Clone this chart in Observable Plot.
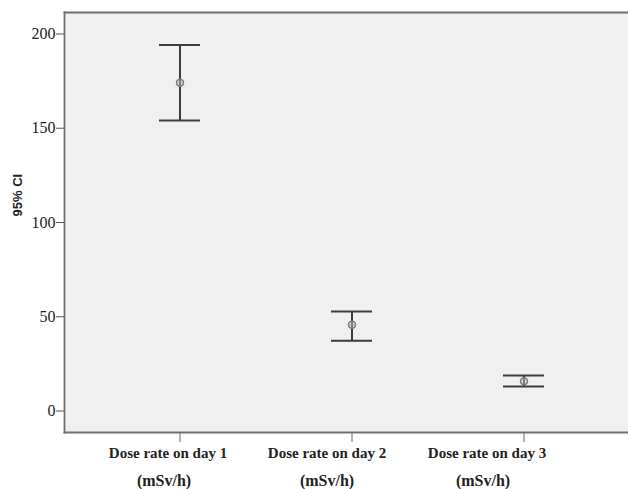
<!DOCTYPE html>
<html>
<head>
<meta charset="utf-8">
<script src="https://cdn.jsdelivr.net/npm/d3@7"></script>
<script src="https://cdn.jsdelivr.net/npm/@observablehq/plot@0.6"></script>
<style>
  html, body { margin: 0; padding: 0; background: #fff; overflow: hidden; }
  #wrap { position: relative; width: 628px; height: 489px; overflow: hidden; }
  .xl { position: absolute; transform: translateX(-50%); white-space: nowrap; color: #222;
        font-family: "Liberation Serif", "Times New Roman", serif; font-weight: bold; }
</style>
</head>
<body>
<div id="wrap"></div>
<script>
// Data
const categories = ["Dose rate on day 1", "Dose rate on day 2", "Dose rate on day 3"];
const unitLabel = "(mSv/h)";
const means = [174.1, 45.7, 15.8];
const lower = [154.1, 37.3, 13.0];
const upper = [194.1, 52.8, 18.8];
const yTicks = [0, 50, 100, 150, 200];
const yLabel = "95% CI";

const rows = categories.map((c, i) => ({cat: c, mean: means[i], lo: lower[i], hi: upper[i]}));

const frameLine = {stroke: "#707070", strokeWidth: 1.8};

const chart = Plot.plot({
  width: 628,
  height: 489,
  marginTop: 12,
  marginBottom: 57,
  marginLeft: 64,
  marginRight: 0,
  style: {background: "transparent"},
  x: {type: "band", domain: categories, range: [93, 609], paddingInner: 0.762, paddingOuter: 0.381, align: 0.5},
  y: {domain: [-11.4, 211.4]},
  marks: [
    Plot.frame({fill: "#f0f0f0", stroke: null}),
    Plot.frame({anchor: "left", ...frameLine}),
    Plot.frame({anchor: "top", ...frameLine}),
    Plot.frame({anchor: "bottom", ...frameLine}),
    Plot.axisY({ticks: yTicks, tickSize: 8, tickPadding: 1, label: null, fontSize: 16,
                fontFamily: "Liberation Serif, Times New Roman, serif", color: "#222", stroke: "#555"}),
    Plot.axisX({tickSize: 10, tickFormat: () => "", label: null, stroke: "#666"}),
    Plot.text([yLabel], {frameAnchor: "left", dx: -47, dy: -6, rotate: -90, fontWeight: "bold",
                fontSize: 13, fontFamily: "Liberation Sans, Arial, sans-serif", fill: "#222"}),
    Plot.ruleX(rows, {x: "cat", y1: "lo", y2: "hi", stroke: "#3c3c3c", strokeWidth: 2}),
    Plot.tickY(rows, {x: "cat", y: "lo", stroke: "#3c3c3c", strokeWidth: 2}),
    Plot.tickY(rows, {x: "cat", y: "hi", stroke: "#3c3c3c", strokeWidth: 2}),
    Plot.dot(rows, {x: "cat", y: "mean", r: 3.5, stroke: "#7a7a7a", strokeWidth: 1.5, fill: "#bdbdbd", fillOpacity: 0.5})
  ]
});

const wrap = document.getElementById("wrap");
wrap.appendChild(chart);
chart.style.position = "absolute";
chart.style.left = "0";
chart.style.top = "0";

// category labels below the axis (two lines)
const line1Centers = [168, 327, 487];
const line2Centers = [164, 327, 483];
categories.forEach((c, i) => {
  const a = document.createElement("div");
  a.className = "xl";
  a.textContent = c;
  a.style.left = line1Centers[i] + "px";
  a.style.top = "445px";
  a.style.fontSize = "15px";
  a.style.lineHeight = "16px";
  wrap.appendChild(a);
  const b = document.createElement("div");
  b.className = "xl";
  b.textContent = unitLabel;
  b.style.left = line2Centers[i] + "px";
  b.style.top = "472px";
  b.style.fontSize = "16px";
  b.style.lineHeight = "18px";
  wrap.appendChild(b);
});
</script>
</body>
</html>
